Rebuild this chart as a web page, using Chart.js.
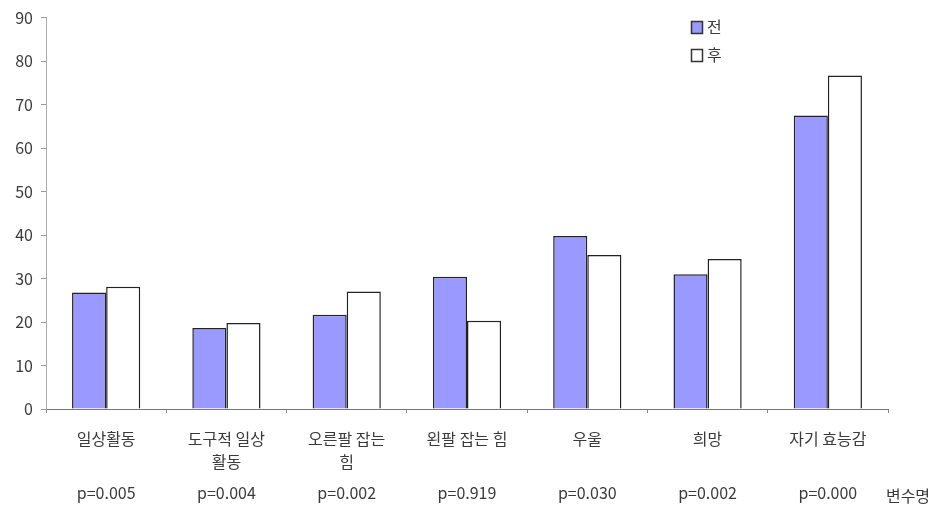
<!DOCTYPE html>
<html>
<head>
<meta charset="utf-8">
<script src="https://cdn.jsdelivr.net/npm/chart.js@4"></script>
<style>
  html, body { margin: 0; padding: 0; background: #fff; }
  #wrap { width: 941px; height: 513px; }
</style>
</head>
<body>
<div id="wrap"><canvas id="chart"></canvas></div>
<script>
// chart data
const categories = ['일상활동', ['도구적 일상', '활동'], ['오른팔 잡는', '힘'], '왼팔 잡는 힘', '우울', '희망', '자기 효능감'];
const pValues = ['p=0.005', 'p=0.004', 'p=0.002', 'p=0.919', 'p=0.030', 'p=0.002', 'p=0.000'];
const beforeValues = [26.8, 18.6, 21.7, 30.4, 39.8, 31.0, 67.5];
const afterValues = [28.1, 19.8, 27.0, 20.3, 35.4, 34.5, 76.7];
const seriesNames = ['전', '후'];
const yTicks = [0, 10, 20, 30, 40, 50, 60, 70, 80, 90];

const FONT = '"Noto Sans CJK KR", "DejaVu Sans", sans-serif';
const TEXT = '#3a3a3a';

// p-values under the labels, axis name and the small legend
const extras = {
    id: 'extras',
    afterDraw(chart) {
        const c = chart.ctx;
        const x = chart.scales.x;
        c.save();
        c.font = '16px ' + FONT;
        c.fillStyle = TEXT;
        c.textAlign = 'center';
        c.textBaseline = 'middle';
        pValues.forEach((p, i) => {
            c.fillText(p, x.getPixelForValue(i), 493);
        });
        c.fillText('변수명', 908, 496);

        // legend
        chart.data.datasets.forEach((ds, i) => {
            const top = 21 + i * 28;
            c.fillStyle = ds.backgroundColor;
            c.fillRect(691, top, 11, 12);
            c.strokeStyle = '#333';
            c.lineWidth = 1.5;
            c.strokeRect(691.5, top + 0.5, 11, 12);
            c.fillStyle = TEXT;
            c.textAlign = 'left';
            c.fillText(ds.label, 707, top + 6);
        });
        c.restore();
    }
};

const ctx = document.getElementById('chart').getContext('2d');
const chart = new Chart(ctx, {
    type: 'bar',
    data: {
        labels: categories,
        datasets: [{
            label: seriesNames[0],
            data: beforeValues,
            backgroundColor: '#9999ff',
            borderColor: '#222',
            borderWidth: 1.5
        }, {
            label: seriesNames[1],
            data: afterValues,
            backgroundColor: '#ffffff',
            borderColor: '#222',
            borderWidth: 1.5
        }]
    },
    options: {
        responsive: true,
        maintainAspectRatio: false,
        animation: false,
        layout: { padding: { top: 13, right: 53, bottom: 0, left: 0 } },
        plugins: {
            legend: { display: false },
            tooltip: { enabled: false }
        },
        datasets: {
            bar: { categoryPercentage: 0.567, barPercentage: 1 }
        },
        scales: {
            x: {
                grid: { display: true, drawOnChartArea: false, offset: true, tickLength: 4, color: '#888' },
                border: { color: '#777' },
                ticks: {
                    color: TEXT,
                    font: { family: FONT, size: 16, lineHeight: 1.45 },
                    padding: 14,
                    maxRotation: 0,
                    autoSkip: false
                },
                afterFit(scale) { scale.height = 104; }
            },
            y: {
                min: 0,
                max: 90,
                afterBuildTicks(scale) { scale.ticks = yTicks.map(v => ({ value: v })); },
                grid: { display: true, drawOnChartArea: false, tickLength: 5, color: '#999' },
                border: { color: '#aaa' },
                ticks: {
                    color: TEXT,
                    font: { family: FONT, size: 16 },
                    padding: 8
                },
                afterFit(scale) { scale.width = 46; }
            }
        }
    },
    plugins: [extras]
});
</script>
</body>
</html>
